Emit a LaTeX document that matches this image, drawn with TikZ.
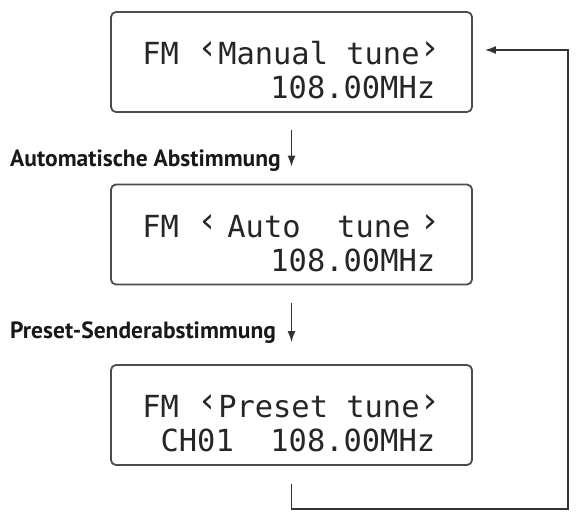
\documentclass[tikz,border=0pt]{standalone}
\usepackage{fontspec}
\setmainfont{PT Sans}
\newfontfamily\lcdfont{DejaVu Sans Mono}
\usetikzlibrary{arrows.meta,positioning}

% one cell of the 16-character display
\newcommand{\cell}{\hspace{0.602em}}
\newcommand{\lbr}{\raisebox{0.17em}{\scalebox{1.15}{‹}}}
\newcommand{\rbr}{\raisebox{0.17em}{\scalebox{1.15}{›}}}
% first row gets a tall strut so the two rows sit low in the frame
\newcommand{\rows}[2]{\rule{0pt}{40pt}#1\\#2}

\begin{document}
\begin{tikzpicture}[
  x=1pt, y=1pt,
  lcd/.style={draw=black!70, line width=1.8pt, rounded corners=5pt,
              minimum width=361pt, minimum height=100pt, inner sep=0pt,
              align=left, text=black!85,
              font=\lcdfont\fontsize{30.4}{34}\selectfont},
  lbl/.style={anchor=base west, inner sep=0pt, text=black!90,
              font=\bfseries\fontsize{23.5}{26}\selectfont},
  a/.style={-{Latex[length=11pt, width=8pt]}, line width=1.5pt, draw=black!80}
]
\useasboundingbox (0,0) rectangle (576,512);

% ================= display states =================
\node[lcd] (manual) at (291.5,450)
  {\rows{FM\cell\lbr Manual\cell tune\rbr}
        {\cell\cell\cell\cell\cell\cell\cell 108.00MHz}};
\node[lcd] (auto) at (291.5,277.5)
  {\rows{FM\cell\lbr\hspace{0.301em}Auto\cell\cell tune\hspace{0.301em}\rbr}
        {\cell\cell\cell\cell\cell\cell\cell 108.00MHz}};
\node[lcd] (preset) at (291.5,97)
  {\rows{FM\cell\lbr Preset\cell tune\rbr}
        {\cell CH01\cell\cell 108.00MHz}};

% ================= key presses =================
\node[lbl] (autolbl) at (10,345) {Automatische Abstimmung};
\node[lbl] (presetlbl) at (10,173) {Preset-Senderabstimmung};

\draw[a, shorten <=17pt, shorten >=17pt] (manual.south) -- (auto.north);
\draw[a, shorten <=18pt, shorten >=22pt] (auto.south) -- (preset.north);

% ================= back to manual tuning =================
\coordinate (loopbot) at (568,3);
\coordinate (looptop) at (568,462);
\draw[a, rounded corners=0pt]
  ([yshift=-18pt]preset.south) |- (loopbot) -- (looptop)
  -- ([xshift=12pt]manual.east |- looptop);
\end{tikzpicture}
\end{document}
